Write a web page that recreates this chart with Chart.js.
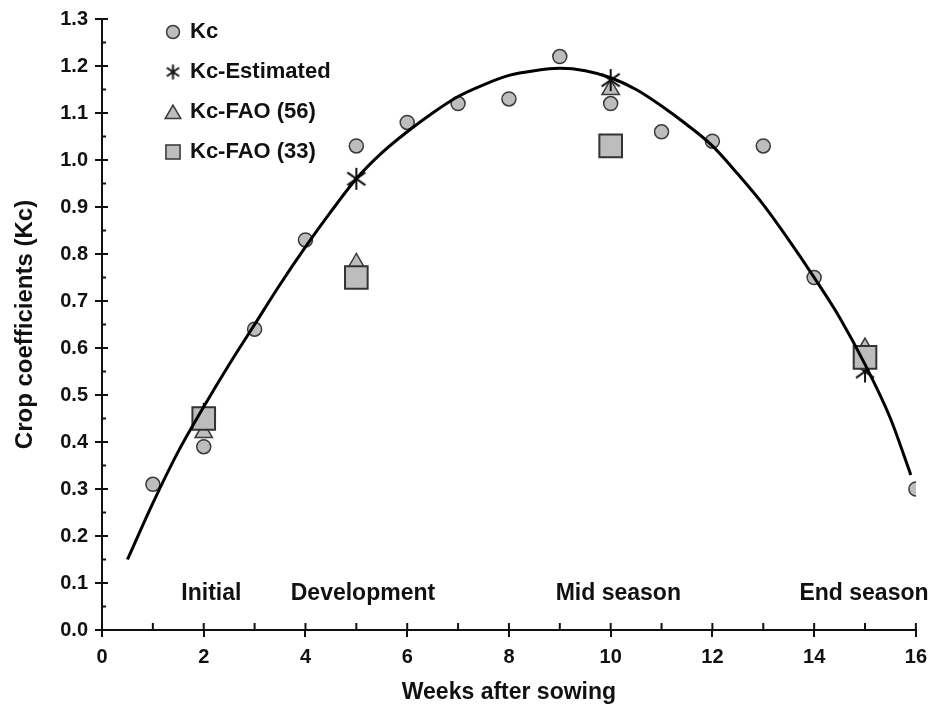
<!DOCTYPE html>
<html>
<head>
<meta charset="utf-8">
<script src="https://cdn.jsdelivr.net/npm/chart.js@4/dist/chart.umd.min.js"></script>
<style>
  html, body { margin: 0; padding: 0; background: #fff; }
  #box { width: 935px; height: 709px; }
</style>
</head>
<body>
<div id="box"><canvas id="grafico"></canvas></div>
<script>
/* ---------------------------------------------------------
   DATA
--------------------------------------------------------- */

const semanasKc = [1, 2, 3, 4, 5, 6, 7, 8, 9, 10, 11, 12, 13, 14, 16];
const valoresKc = [0.31, 0.39, 0.64, 0.83, 1.03, 1.08, 1.12, 1.13, 1.22, 1.12, 1.06, 1.04, 1.03, 0.75, 0.30];

const semanasFase = [2, 5, 10, 15];
const kcEstimado = [0.46, 0.96, 1.17, 0.55];
const kcFao56 = [0.42, 0.78, 1.15, 0.60];
const kcFao33 = [0.45, 0.75, 1.03, 0.58];

// fitted curve
const curvaX = [0.5, 1, 1.5, 2, 2.5, 3, 3.5, 4, 4.5, 5, 5.5, 6, 6.5, 7, 7.5, 8, 8.5, 9, 9.5, 10, 10.5, 11, 11.5, 12, 12.5, 13, 13.5, 14, 14.5, 15, 15.5, 15.9];
const curvaY = [0.15, 0.27, 0.38, 0.475, 0.565, 0.65, 0.735, 0.815, 0.89, 0.96, 1.015, 1.06, 1.10, 1.135, 1.16, 1.18, 1.19, 1.195, 1.19, 1.175, 1.15, 1.115, 1.075, 1.03, 0.97, 0.905, 0.83, 0.75, 0.665, 0.565, 0.45, 0.33];

const nomesSeries = ['Kc', 'Kc-Estimated', 'Kc-FAO (56)', 'Kc-FAO (33)'];

const nomesFases = ['Initial', 'Development', 'Mid season', 'End season'];
const semanasRotulo = [2.15, 5.13, 10.15, 14.98];
const alturaRotulo = 0.078;

const tituloX = 'Weeks after sowing';
const tituloY = 'Crop coefficients (Kc)';

/* ---------------------------------------------------------
   HELPERS
--------------------------------------------------------- */

const FONTE = '"Liberation Sans", Arial, Helvetica, sans-serif';
const CINZA = '#bdbdbd';
const BORDA = '#3a3a3a';

function pares(xs, ys) {
  return xs.map((x, i) => ({ x, y: ys[i] }));
}

// asterisk marker: vertical stroke plus two diagonals
function criaAsterisco(tam) {
  const c = document.createElement('canvas');
  c.width = tam;
  c.height = tam;
  const g = c.getContext('2d');
  const m = tam / 2;
  const r = tam / 2 - 1;
  g.strokeStyle = '#111';
  g.lineWidth = 2;
  g.beginPath();
  g.moveTo(m, m - r);
  g.lineTo(m, m + r);
  [35, -35].forEach(a => {
    const rad = a * Math.PI / 180;
    const dx = Math.cos(rad) * r;
    const dy = Math.sin(rad) * r;
    g.moveTo(m - dx, m - dy);
    g.lineTo(m + dx, m + dy);
  });
  g.stroke();
  return c;
}

const asterisco = criaAsterisco(24);
const asteriscoLegenda = criaAsterisco(17);

/* ---------------------------------------------------------
   PLUGIN: inner/minor ticks, stage labels, legend
--------------------------------------------------------- */

const extras = {
  id: 'extras',
  afterDraw(chart) {
    const ctx = chart.ctx;
    const { left, bottom } = chart.chartArea;
    const sx = chart.scales.x;
    const sy = chart.scales.y;

    ctx.save();
    ctx.strokeStyle = '#111';
    ctx.lineWidth = 2;
    ctx.beginPath();

    // y ticks: majors cross the axis, minors on the inside
    for (let i = 0; i <= 26; i++) {
      const py = sy.getPixelForValue(i * 0.05);
      const len = i % 2 === 0 ? 6 : 4;
      ctx.moveTo(left, py);
      ctx.lineTo(left + len, py);
    }

    // x ticks: inside part for every week
    for (let w = 0; w <= 16; w++) {
      const px = sx.getPixelForValue(w);
      ctx.moveTo(px, bottom);
      ctx.lineTo(px, bottom - 7);
    }
    ctx.stroke();

    // growth stage labels
    ctx.fillStyle = '#111';
    ctx.font = 'bold 23px ' + FONTE;
    ctx.textAlign = 'center';
    ctx.textBaseline = 'middle';
    nomesFases.forEach((nome, i) => {
      ctx.fillText(nome, sx.getPixelForValue(semanasRotulo[i]), sy.getPixelForValue(alturaRotulo));
    });

    // legend
    const linhas = [32, 72, 112, 152];
    const mx = left + 71;
    ctx.textAlign = 'left';
    ctx.font = 'bold 22px ' + FONTE;
    nomesSeries.forEach((nome, i) => {
      const y = linhas[i];
      const ds = chart.data.datasets[i + 1];
      if (i === 1) {
        ctx.drawImage(asteriscoLegenda, mx - 8.5, y - 8.5, 17, 17);
      } else {
        const raio = i === 0 ? 6.5 : (i === 2 ? 9 : 10);
        ctx.fillStyle = ds.backgroundColor;
        ctx.strokeStyle = ds.borderColor;
        ctx.lineWidth = 1.5;
        Chart.helpers.drawPoint(ctx, { pointStyle: ds.pointStyle, radius: raio, borderWidth: 1.5 }, mx, y + (i === 2 ? 2 : 0));
      }
      ctx.fillStyle = '#111';
      ctx.fillText(nome, mx + 17, y);
    });

    ctx.restore();
  }
};

/* ---------------------------------------------------------
   CHART
--------------------------------------------------------- */

const fonteTick = { family: FONTE, size: 20, weight: 'bold' };

new Chart(document.getElementById('grafico'), {
  type: 'scatter',
  data: {
    datasets: [
      {
        label: 'curve',
        data: pares(curvaX, curvaY),
        showLine: true,
        borderColor: '#000',
        borderWidth: 3,
        pointRadius: 0,
        cubicInterpolationMode: 'monotone',
        order: 0
      },
      {
        label: nomesSeries[0],
        data: pares(semanasKc, valoresKc),
        pointStyle: 'circle',
        pointRadius: 7,
        backgroundColor: CINZA,
        borderColor: BORDA,
        borderWidth: 1.5,
        order: 4
      },
      {
        label: nomesSeries[1],
        data: pares(semanasFase, kcEstimado),
        pointStyle: asterisco,
        pointRadius: 12,
        order: 2
      },
      {
        label: nomesSeries[2],
        data: pares(semanasFase, kcFao56),
        pointStyle: 'triangle',
        pointRadius: 10,
        backgroundColor: CINZA,
        borderColor: BORDA,
        borderWidth: 1.5,
        order: 3
      },
      {
        label: nomesSeries[3],
        data: pares(semanasFase, kcFao33),
        pointStyle: 'rect',
        pointRadius: 16,
        backgroundColor: CINZA,
        borderColor: '#333',
        borderWidth: 2,
        order: 1
      }
    ]
  },
  options: {
    responsive: true,
    maintainAspectRatio: false,
    animation: false,
    layout: { padding: { top: 18, right: 10, left: 0, bottom: 0 } },
    plugins: {
      legend: { display: false },
      tooltip: { enabled: false }
    },
    scales: {
      x: {
        type: 'linear',
        min: 0,
        max: 16,
        afterFit: s => { s.height = 79; },
        ticks: { stepSize: 2, color: '#111', font: fonteTick, padding: 8 },
        grid: { drawOnChartArea: false, drawTicks: true, tickLength: 7, color: '#111', lineWidth: 2 },
        border: { display: true, color: '#111', width: 2 },
        title: {
          display: true,
          text: tituloX,
          color: '#111',
          font: { family: FONTE, size: 23, weight: 'bold' },
          padding: { top: 0, bottom: 3 }
        }
      },
      y: {
        type: 'linear',
        min: 0,
        max: 1.3,
        afterFit: s => { s.width = 102; },
        ticks: {
          stepSize: 0.1,
          color: '#111',
          font: fonteTick,
          padding: 7,
          callback: v => Number(v).toFixed(1)
        },
        grid: { drawOnChartArea: false, drawTicks: true, tickLength: 7, color: '#111', lineWidth: 2 },
        border: { display: true, color: '#111', width: 2 },
        title: {
          display: true,
          text: tituloY,
          color: '#111',
          font: { family: FONTE, size: 24, weight: 'bold' },
          padding: { top: 11, bottom: 0 }
        }
      }
    }
  },
  plugins: [extras]
});
</script>
</body>
</html>
